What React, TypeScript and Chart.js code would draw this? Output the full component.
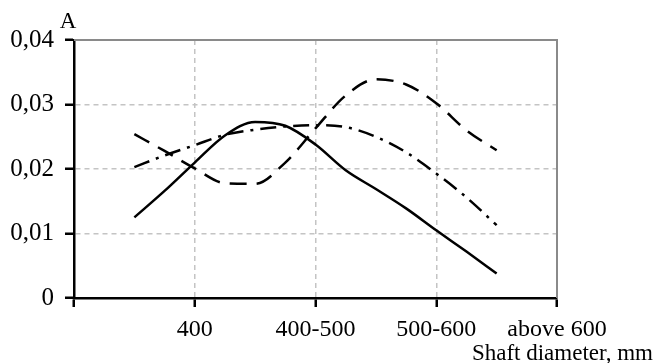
import React, { useEffect, useRef } from "react";
import { Chart, registerables } from "chart.js";

Chart.register(...registerables);

const xPositions = [0.5, 0.75, 1.0, 1.25, 1.5, 1.75, 2.0, 2.25, 2.5, 2.75, 3.0, 3.25, 3.5];
const solidSeries = [0.0125, 0.0166, 0.021, 0.0252, 0.0273, 0.0267, 0.0238, 0.0198, 0.0169, 0.0139, 0.0105, 0.0072, 0.0038];
const dashedSeries = [0.0254, 0.0228, 0.0201, 0.0178, 0.0177, 0.021, 0.0263, 0.0314, 0.0339, 0.0331, 0.0302, 0.026, 0.0229];
const dashDotSeries = [0.0203, 0.0221, 0.0237, 0.0253, 0.0261, 0.0266, 0.0268, 0.0265, 0.025, 0.0226, 0.0193, 0.0156, 0.0113];
const xTickLabels = ["400", "400-500", "500-600", "above 600"];
const yAxisTitle = "A";
const xAxisTitle = "Shaft diameter, mm";

const FONT = "'Liberation Serif', 'Times New Roman', serif";

const toPoints = (ys: number[]) => ys.map((y, i) => ({ x: xPositions[i], y }));

const framePlugin = {
  id: "frame",
  afterDraw(chart: any) {
    const { ctx, chartArea } = chart;
    const { left, right, top, bottom } = chartArea;
    ctx.save();
    ctx.strokeStyle = "#8a8a8a";
    ctx.lineWidth = 2;
    ctx.beginPath();
    ctx.moveTo(left, top);
    ctx.lineTo(right, top);
    ctx.lineTo(right, bottom);
    ctx.stroke();
    ctx.fillStyle = "#000";
    ctx.font = `23px ${FONT}`;
    ctx.textAlign = "center";
    ctx.textBaseline = "alphabetic";
    ctx.fillText(yAxisTitle, left - 6, 28);
    ctx.textAlign = "right";
    ctx.fillText(xAxisTitle, chart.width - 2, 360);
    ctx.restore();
  },
};

export default function App() {
  const ref = useRef<HTMLCanvasElement | null>(null);
  useEffect(() => {
    if (!ref.current) return;
    const common = {
      borderColor: "#000",
      backgroundColor: "#000",
      borderWidth: 2.5,
      pointRadius: 0,
      fill: false,
      cubicInterpolationMode: "monotone" as const,
    };
    const chart = new Chart(ref.current, {
      type: "line",
      data: {
        datasets: [
          { ...common, label: "solid", data: toPoints(solidSeries) },
          { ...common, label: "dashed", data: toPoints(dashedSeries), borderDash: [17, 10] },
          { ...common, label: "dash-dot", data: toPoints(dashDotSeries), borderDash: [16, 7, 3, 7] },
        ],
      },
      options: {
        animation: false,
        responsive: false,
        maintainAspectRatio: false,
        layout: { padding: { top: 40, right: 98, left: 0, bottom: 0 } },
        plugins: { legend: { display: false }, tooltip: { enabled: false } },
        scales: {
          x: {
            type: "linear",
            min: 0,
            max: 4,
            afterFit: (s: any) => {
              s.height = 65;
            },
            ticks: {
              stepSize: 1,
              autoSkip: false,
              maxRotation: 0,
              color: "#000",
              padding: 8,
              font: { family: FONT, size: 24 },
              callback: (v: any) => (v >= 1 ? xTickLabels[Math.round(v) - 1] : ""),
            },
            grid: {
              color: (c: any) => (c.tick && (c.tick.value === 0 || c.tick.value === 4) ? "rgba(0,0,0,0)" : "#c4c4c4"),
              lineWidth: 1.5,
              tickColor: "#000",
              tickLength: 9,
              tickWidth: 2.5,
            },
            border: { color: "#000", width: 2.5, dash: [5, 4] },
          },
          y: {
            min: 0,
            max: 0.04,
            afterFit: (s: any) => {
              s.width = 74;
            },
            ticks: {
              stepSize: 0.01,
              color: "#000",
              padding: 11,
              font: { family: FONT, size: 25 },
              callback: (v: any) => (v === 0 ? "0" : Number(v).toFixed(2).replace(".", ",")),
            },
            grid: {
              color: (c: any) => (c.tick && (c.tick.value === 0 || Math.abs(c.tick.value - 0.04) < 1e-9) ? "rgba(0,0,0,0)" : "#c4c4c4"),
              lineWidth: 1.5,
              tickColor: "#000",
              tickLength: 9,
              tickWidth: 2.5,
            },
            border: { color: "#000", width: 2.5, dash: [5, 4] },
          },
        },
      },
      plugins: [framePlugin],
    });
    return () => chart.destroy();
  }, []);
  return (
    <div style={{ position: "fixed", left: 0, top: 0, width: 655, height: 363, background: "#fff" }}>
      <canvas ref={ref} width={655} height={363} style={{ width: 655, height: 363 }} />
    </div>
  );
}
